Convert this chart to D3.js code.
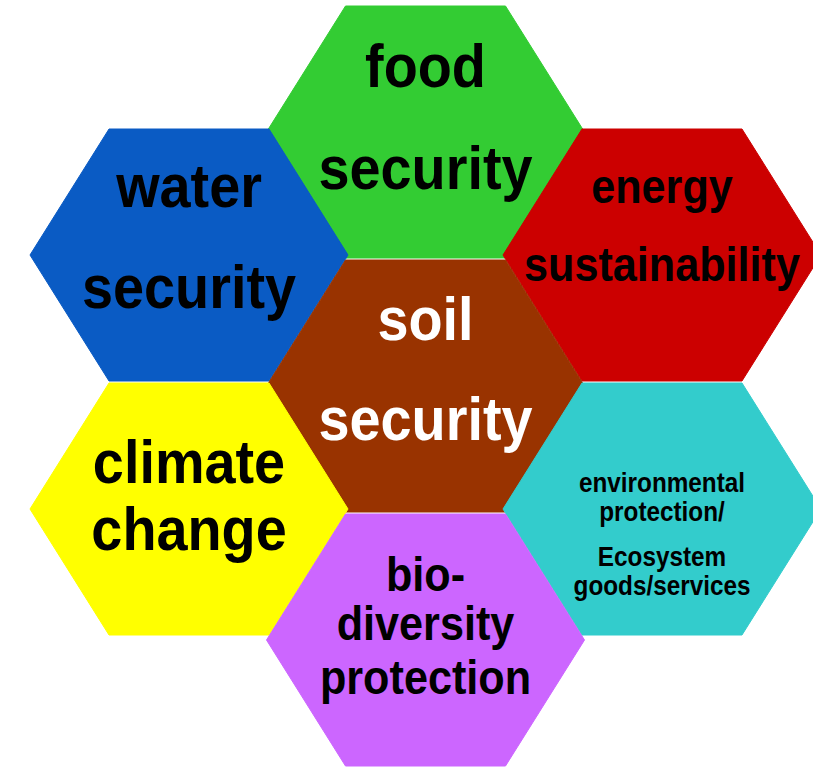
<!DOCTYPE html>
<html>
<head>
    <title>Soil security honeycomb</title>
    <script src="https://d3js.org/d3.v7.min.js"></script>
    <style>
        body { margin: 0; background: #fff; overflow: hidden; }
        .hex-label { font-family: "Liberation Sans", Arial, sans-serif; font-weight: bold; }
    </style>
</head>
<body>
    <script>
    // honeycomb cells: column (-1..1) and half-row (-2..2) in the grid
    var names   = ["food security", "water security", "energy sustainability", "soil security",
                   "climate change", "environmental protection", "biodiversity protection"];
    var cols    = [0, -1, 1, 0, -1, 1, 0];
    var rows    = [-2, -1, -1, 0, 1, 1, 2];
    var colours = ["#33cc33", "#0a5bc4", "#cc0000", "#993300", "#ffff00", "#33cccc", "#cc66ff"];
    var textColours = ["#000", "#000", "#000", "#fff", "#000", "#000", "#000"];
    var lines = [
        ["food", "security"],
        ["water", "security"],
        ["energy", "sustainability"],
        ["soil", "security"],
        ["climate", "change"],
        ["environmental", "protection/", "Ecosystem", "goods/services"],
        ["bio-", "diversity", "protection"]
    ];

    // layout (not data): font size and baseline offsets of each label, relative to the cell centre
    var fontSizes = [62, 62, 48, 62, 62, 27, 48];
    var lineDy = [
        [-45, 57],
        [-48, 53],
        [-52, 26],
        [-46, 54],
        [-26, 41],
        [-17, 12, 57, 86],
        [-49, 0, 54]
    ];
    var sideShift = -4;   // side columns sit a little higher in the original

    var W = 813, H = 768;
    var rx = 159, inset = 79, ry = 126;

    var svg = d3.select("body").append("svg")
        .attr("width", W)
        .attr("height", H);

    var x = d3.scaleLinear().domain([-1, 1]).range([189, 662]);
    var y = d3.scaleLinear().domain([-2, 2]).range([132, 640]);

    var cells = names.map(function(n, i) {
        return { name: n, col: cols[i], row: rows[i], fill: colours[i],
                 ink: textColours[i], lines: lines[i], size: fontSizes[i], dy: lineDy[i] };
    });

    function cx(d) { return x(d.col); }
    function cy(d) { return y(d.row) + (d.col !== 0 ? sideShift : 0); }

    var hexPath = d3.line();
    function hexPoints(d) {
        var px = cx(d), py = cy(d);
        return [
            [px - rx, py], [px - rx + inset, py - ry], [px + rx - inset, py - ry],
            [px + rx, py], [px + rx - inset, py + ry], [px - rx + inset, py + ry]
        ];
    }

    var g = svg.selectAll(".cell")
        .data(cells)
      .enter().append("g")
        .attr("class", "cell");

    g.append("path")
        .attr("d", function(d) { return hexPath(hexPoints(d)) + "Z"; })
        .attr("fill", function(d) { return d.fill; })
        .attr("stroke", function(d) { return d.fill; })
        .attr("stroke-width", 1);

    // labels, slightly condensed like the original
    g.each(function(d) {
        var t = d3.select(this).append("g")
            .attr("transform", "translate(" + cx(d) + "," + cy(d) + ") scale(0.9,1)");
        t.selectAll("text")
            .data(d.lines)
          .enter().append("text")
            .attr("class", "hex-label")
            .attr("text-anchor", "middle")
            .attr("x", 0)
            .attr("y", function(l, i) { return d.dy[i]; })
            .attr("fill", d.ink)
            .style("font-size", d.size + "px")
            .text(function(l) { return l; });
    });
    </script>
</body>
</html>
